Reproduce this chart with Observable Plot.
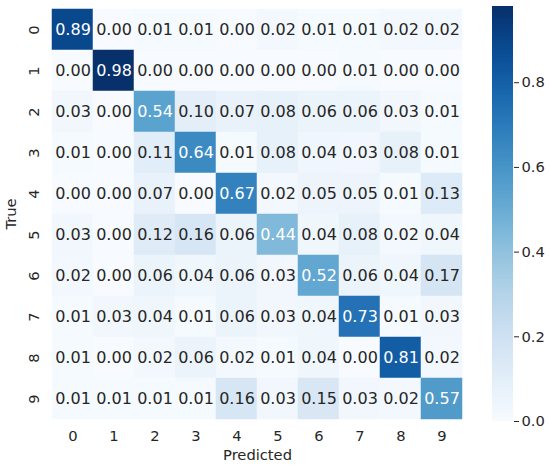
<!DOCTYPE html>
<html>
<head>
<meta charset="utf-8">
<script src="https://cdn.jsdelivr.net/npm/d3@7"></script>
<script src="https://cdn.jsdelivr.net/npm/@observablehq/plot@0.6"></script>
<style>
  html, body { margin: 0; padding: 0; background: white; }
  #wrap { position: relative; width: 550px; height: 465px; overflow: hidden; background: white; }
  #wrap svg { position: absolute; top: 0; }
</style>
</head>
<body>
<div id="wrap"></div>
<script>
const labels = ["0", "1", "2", "3", "4", "5", "6", "7", "8", "9"];
const row0 = [0.89, 0.00, 0.01, 0.01, 0.00, 0.02, 0.01, 0.01, 0.02, 0.02];
const row1 = [0.00, 0.98, 0.00, 0.00, 0.00, 0.00, 0.00, 0.01, 0.00, 0.00];
const row2 = [0.03, 0.00, 0.54, 0.10, 0.07, 0.08, 0.06, 0.06, 0.03, 0.01];
const row3 = [0.01, 0.00, 0.11, 0.64, 0.01, 0.08, 0.04, 0.03, 0.08, 0.01];
const row4 = [0.00, 0.00, 0.07, 0.00, 0.67, 0.02, 0.05, 0.05, 0.01, 0.13];
const row5 = [0.03, 0.00, 0.12, 0.16, 0.06, 0.44, 0.04, 0.08, 0.02, 0.04];
const row6 = [0.02, 0.00, 0.06, 0.04, 0.06, 0.03, 0.52, 0.06, 0.04, 0.17];
const row7 = [0.01, 0.03, 0.04, 0.01, 0.06, 0.03, 0.04, 0.73, 0.01, 0.03];
const row8 = [0.01, 0.00, 0.02, 0.06, 0.02, 0.01, 0.04, 0.00, 0.81, 0.02];
const row9 = [0.01, 0.01, 0.01, 0.01, 0.16, 0.03, 0.15, 0.03, 0.02, 0.57];
const rows = [row0, row1, row2, row3, row4, row5, row6, row7, row8, row9];
const colorTicks = [0, 0.2, 0.4, 0.6, 0.8];

const cells = labels.flatMap((t, i) => labels.map((p, j) => ({ t, p, v: rows[i][j] })));
const vmin = d3.min(cells, d => d.v);
const vmax = d3.max(cells, d => d.v);
const ink = "#262626";
const font = "DejaVu Sans, sans-serif";

const heat = Plot.plot({
  width: 480, height: 465,
  marginLeft: 48, marginRight: 14, marginTop: 6, marginBottom: 44,
  style: { fontFamily: font, fontSize: "14.7px", color: ink, background: "transparent" },
  x: { domain: labels, padding: 0 },
  y: { domain: labels, padding: 0 },
  color: { type: "linear", scheme: "blues", domain: [vmin, vmax] },
  marks: [
    Plot.cell(cells, { x: "p", y: "t", fill: "v", stroke: "v", strokeWidth: 0.5 }),
    Plot.text(cells.filter(d => d.v <= 0.3), { x: "p", y: "t", text: d => d.v.toFixed(2), fill: ink, fontSize: 16 }),
    Plot.text(cells.filter(d => d.v > 0.3), { x: "p", y: "t", text: d => d.v.toFixed(2), fill: "white", fontSize: 16 }),
    Plot.axisX({ tickSize: 0, tickPadding: 9, label: "Predicted", labelAnchor: "center", labelOffset: 38, fill: ink }),
    Plot.axisY({ tickSize: 0, tickPadding: 10, tickRotate: -90, label: "True", labelAnchor: "center", labelOffset: 43, fill: ink })
  ]
});

const nSteps = 196;
const step = (vmax - vmin) / nSteps;
const steps = d3.range(nSteps).map(i => vmin + i * step);

const bar = Plot.plot({
  width: 70, height: 465,
  marginLeft: 12, marginRight: 37, marginTop: 6, marginBottom: 44,
  style: { fontFamily: font, fontSize: "14.7px", color: ink, background: "transparent" },
  x: { domain: [0, 1], axis: null },
  y: { domain: [vmin, vmax], axis: null },
  color: { type: "linear", scheme: "blues", domain: [vmin, vmax] },
  marks: [
    Plot.rect(steps, { x1: 0, x2: 1, y1: d => d, y2: d => Math.min(vmax, d + step * 1.6), fill: d => d + step / 2 }),
    Plot.axisY({ anchor: "right", ticks: colorTicks, tickFormat: d3.format(".1f"), tickSize: 5, tickPadding: 3, label: null, stroke: ink, fill: ink })
  ]
});

heat.style.left = "0px";
bar.style.left = "480px";
document.getElementById("wrap").append(heat, bar);
</script>
</body>
</html>
